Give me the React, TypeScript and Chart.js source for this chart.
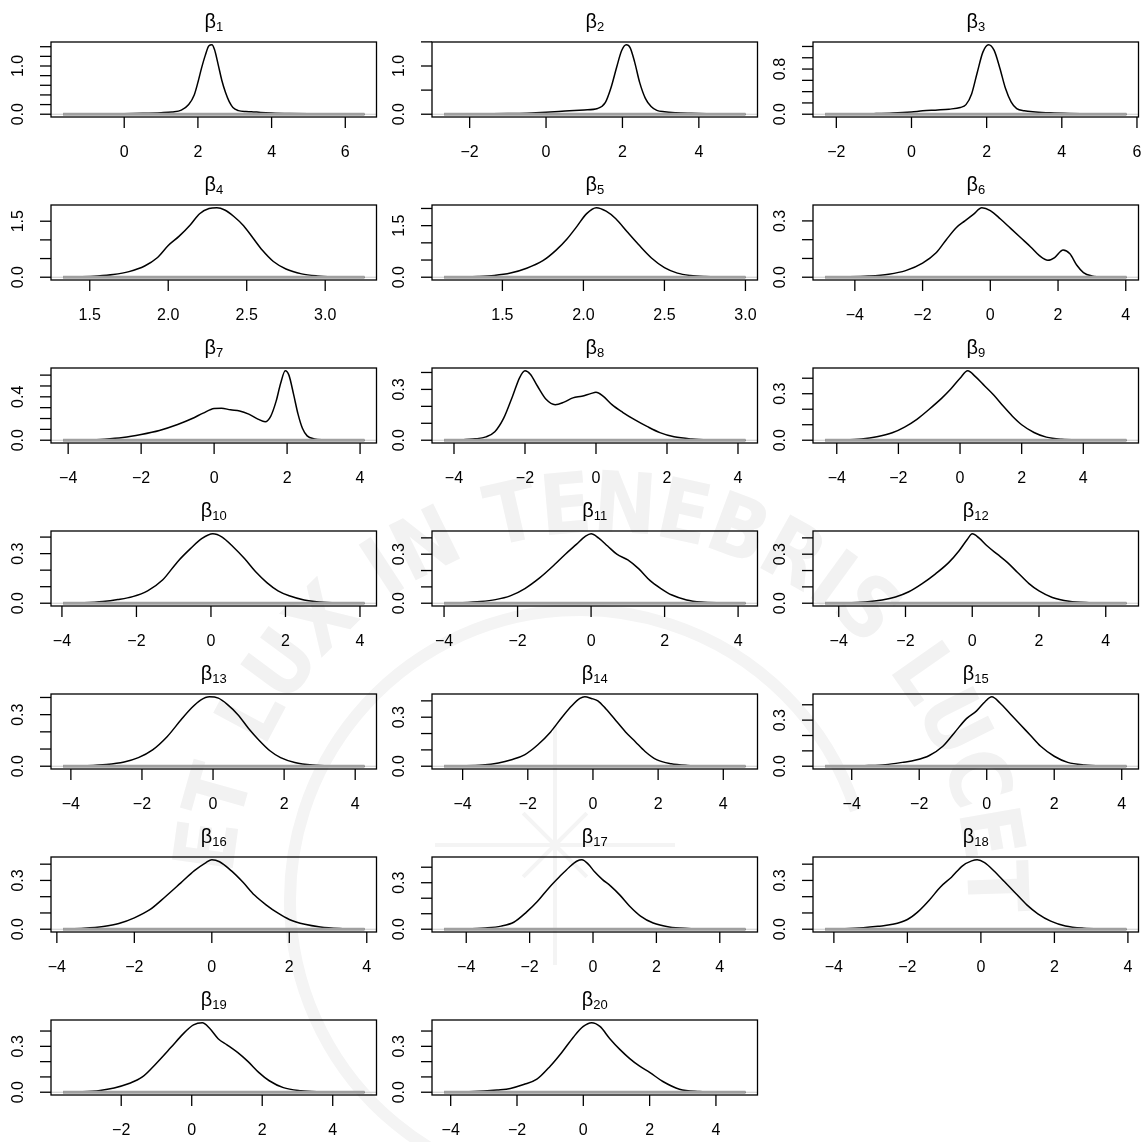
import React, { useEffect, useRef } from "react";
import { Chart, registerables } from "chart.js";
Chart.register(...registerables);

// ---------- density estimates (x grid, density) ----------
const b1X = [-1.66, -1.0, -0.5, 0, 0.5, 1.0, 1.3, 1.55, 1.75, 1.9, 2.0, 2.1, 2.2, 2.3, 2.38, 2.45, 2.55, 2.65, 2.75, 2.85, 2.95, 3.1, 3.3, 3.45, 3.7, 4.0, 4.5, 5.0, 5.5, 6.0, 6.52];
const b1Y = [0.001, 0.003, 0.006, 0.01, 0.018, 0.032, 0.048, 0.085, 0.2, 0.4, 0.66, 0.96, 1.22, 1.42, 1.44, 1.34, 1.03, 0.7, 0.45, 0.26, 0.14, 0.075, 0.055, 0.052, 0.038, 0.027, 0.016, 0.009, 0.005, 0.002, 0.001];

const b2X = [-2.67, -2, -1.5, -1, -0.5, 0, 0.5, 1.0, 1.35, 1.55, 1.7, 1.85, 1.98, 2.1, 2.2, 2.32, 2.45, 2.6, 2.75, 2.9, 3.1, 3.4, 3.8, 4.2, 4.7, 5.22];
const b2Y = [0.001, 0.004, 0.008, 0.013, 0.022, 0.04, 0.065, 0.09, 0.12, 0.24, 0.55, 0.98, 1.32, 1.44, 1.38, 1.08, 0.66, 0.33, 0.16, 0.08, 0.05, 0.03, 0.018, 0.01, 0.005, 0.002];

const b3X = [-2.3, -1.5, -1, -0.5, 0, 0.3, 0.7, 1.0, 1.3, 1.45, 1.6, 1.75, 1.9, 2.05, 2.2, 2.35, 2.5, 2.65, 2.8, 3.0, 3.3, 3.7, 4.2, 4.8, 5.3, 5.72];
const b3Y = [0.001, 0.004, 0.01, 0.02, 0.04, 0.06, 0.075, 0.09, 0.12, 0.17, 0.36, 0.74, 1.1, 1.23, 1.13, 0.82, 0.46, 0.22, 0.1, 0.06, 0.04, 0.025, 0.014, 0.006, 0.003, 0.001];

const b4X = [1.33, 1.45, 1.55, 1.65, 1.75, 1.85, 1.93, 2.0, 2.07, 2.14, 2.2, 2.26, 2.31, 2.36, 2.42, 2.48, 2.54, 2.6, 2.67, 2.75, 2.85, 2.95, 3.05, 3.15, 3.25];
const b4Y = [0.002, 0.01, 0.03, 0.07, 0.15, 0.3, 0.52, 0.85, 1.1, 1.4, 1.7, 1.84, 1.86, 1.8, 1.62, 1.38, 1.05, 0.72, 0.42, 0.22, 0.09, 0.035, 0.012, 0.004, 0.001];

const b5X = [1.14, 1.25, 1.35, 1.45, 1.55, 1.65, 1.75, 1.83, 1.9, 1.96, 2.02, 2.08, 2.14, 2.2, 2.27, 2.34, 2.42, 2.5, 2.58, 2.66, 2.75, 2.85, 3.0];
const b5Y = [0.002, 0.008, 0.02, 0.05, 0.12, 0.26, 0.48, 0.78, 1.12, 1.48, 1.85, 2.02, 1.92, 1.7, 1.32, 0.95, 0.56, 0.28, 0.12, 0.05, 0.018, 0.006, 0.001];

const b6X = [-4.88, -4.2, -3.6, -3.0, -2.5, -2.0, -1.6, -1.3, -1.0, -0.75, -0.5, -0.25, 0.0, 0.3, 0.6, 0.9, 1.2, 1.45, 1.7, 1.9, 2.15, 2.35, 2.55, 2.75, 3.0, 3.4, 4.02];
const b6Y = [0.0005, 0.002, 0.006, 0.016, 0.035, 0.075, 0.13, 0.2, 0.265, 0.3, 0.335, 0.37, 0.355, 0.31, 0.26, 0.21, 0.16, 0.115, 0.09, 0.105, 0.145, 0.125, 0.065, 0.025, 0.007, 0.001, 0.0002];

const b7X = [-4.14, -3.5, -3.0, -2.5, -2.0, -1.5, -1.0, -0.6, -0.3, 0.0, 0.2, 0.45, 0.7, 0.95, 1.2, 1.4, 1.55, 1.7, 1.82, 1.95, 2.05, 2.18, 2.3, 2.42, 2.55, 2.75, 3.0, 3.5, 4.12];
const b7Y = [0.0005, 0.003, 0.01, 0.025, 0.053, 0.09, 0.145, 0.2, 0.25, 0.292, 0.295, 0.28, 0.27, 0.24, 0.195, 0.17, 0.22, 0.36, 0.52, 0.64, 0.6, 0.42, 0.24, 0.11, 0.04, 0.012, 0.004, 0.001, 0.0002];

const b8X = [-4.28, -3.8, -3.4, -3.1, -2.85, -2.6, -2.35, -2.15, -2.0, -1.85, -1.65, -1.4, -1.15, -0.9, -0.65, -0.4, -0.15, 0.0, 0.2, 0.45, 0.75, 1.1, 1.45, 1.8, 2.2, 2.7, 3.2, 3.7, 4.21];
const b8Y = [0.0005, 0.002, 0.008, 0.02, 0.05, 0.13, 0.26, 0.37, 0.41, 0.39, 0.32, 0.24, 0.21, 0.225, 0.25, 0.26, 0.275, 0.283, 0.26, 0.21, 0.165, 0.12, 0.08, 0.045, 0.02, 0.007, 0.002, 0.0007, 0.0002];

const b9X = [-4.38, -3.8, -3.2, -2.7, -2.2, -1.8, -1.4, -1.0, -0.6, -0.3, 0.0, 0.25, 0.5, 0.8, 1.1, 1.4, 1.7, 2.0, 2.4, 2.8, 3.3, 3.9, 4.6, 5.4];
const b9Y = [0.0005, 0.002, 0.008, 0.022, 0.048, 0.085, 0.135, 0.2, 0.27, 0.33, 0.4, 0.448, 0.41, 0.35, 0.29, 0.22, 0.155, 0.1, 0.05, 0.02, 0.006, 0.0015, 0.0004, 0.0001];

const b10X = [-3.97, -3.4, -2.9, -2.5, -2.1, -1.7, -1.3, -0.9, -0.55, -0.25, 0.05, 0.3, 0.6, 0.9, 1.2, 1.5, 1.8, 2.1, 2.5, 2.9, 3.4, 4.12];
const b10Y = [0.0005, 0.003, 0.01, 0.022, 0.04, 0.075, 0.14, 0.25, 0.33, 0.39, 0.42, 0.4, 0.34, 0.27, 0.19, 0.125, 0.075, 0.045, 0.02, 0.008, 0.002, 0.0003];

const b11X = [-4.0, -3.5, -3.0, -2.6, -2.2, -1.8, -1.4, -1.0, -0.7, -0.4, -0.15, 0.0, 0.2, 0.45, 0.7, 1.0, 1.3, 1.6, 1.9, 2.2, 2.6, 3.0, 3.5, 4.2];
const b11Y = [0.0005, 0.003, 0.01, 0.022, 0.045, 0.09, 0.155, 0.235, 0.3, 0.36, 0.41, 0.425, 0.4, 0.35, 0.3, 0.265, 0.21, 0.14, 0.09, 0.05, 0.02, 0.007, 0.002, 0.0003];

const b12X = [-4.41, -3.8, -3.2, -2.7, -2.3, -1.9, -1.5, -1.1, -0.7, -0.4, -0.15, 0.0, 0.2, 0.45, 0.75, 1.05, 1.35, 1.7, 2.0, 2.4, 2.9, 3.5, 4.0, 4.62];
const b12Y = [0.0003, 0.002, 0.008, 0.02, 0.038, 0.07, 0.12, 0.18, 0.25, 0.32, 0.39, 0.425, 0.4, 0.35, 0.3, 0.25, 0.19, 0.12, 0.075, 0.035, 0.012, 0.003, 0.001, 0.0002];

const b13X = [-4.22, -3.6, -3.0, -2.5, -2.1, -1.7, -1.3, -0.9, -0.6, -0.35, -0.1, 0.15, 0.4, 0.7, 1.0, 1.3, 1.6, 1.9, 2.3, 2.8, 3.4, 4.26];
const b13Y = [0.0005, 0.003, 0.01, 0.025, 0.05, 0.095, 0.17, 0.27, 0.34, 0.385, 0.404, 0.396, 0.36, 0.3, 0.22, 0.15, 0.09, 0.05, 0.022, 0.007, 0.002, 0.0003];

const b14X = [-4.57, -4.0, -3.4, -2.9, -2.5, -2.1, -1.7, -1.3, -0.95, -0.65, -0.4, -0.25, -0.05, 0.15, 0.4, 0.7, 1.0, 1.3, 1.6, 1.95, 2.4, 2.9, 3.5, 4.1, 4.68];
const b14Y = [0.0003, 0.002, 0.007, 0.02, 0.04, 0.07, 0.13, 0.21, 0.3, 0.37, 0.415, 0.425, 0.415, 0.4, 0.35, 0.28, 0.21, 0.15, 0.09, 0.04, 0.015, 0.005, 0.0015, 0.0005, 0.0001];

const b15X = [-4.79, -4.1, -3.5, -3.0, -2.5, -2.1, -1.7, -1.3, -0.95, -0.6, -0.3, -0.05, 0.15, 0.4, 0.7, 1.0, 1.3, 1.6, 2.0, 2.4, 2.9, 3.5, 4.14];
const b15Y = [0.0002, 0.001, 0.004, 0.01, 0.025, 0.04, 0.07, 0.13, 0.22, 0.31, 0.36, 0.42, 0.452, 0.41, 0.34, 0.27, 0.2, 0.13, 0.065, 0.025, 0.008, 0.002, 0.0003];

const b16X = [-3.84, -3.3, -2.8, -2.4, -2.0, -1.6, -1.2, -0.8, -0.45, -0.15, 0.0, 0.2, 0.5, 0.8, 1.1, 1.4, 1.7, 2.0, 2.4, 2.8, 3.3, 3.94];
const b16Y = [0.001, 0.006, 0.017, 0.035, 0.07, 0.12, 0.2, 0.285, 0.36, 0.41, 0.427, 0.415, 0.36, 0.29, 0.21, 0.15, 0.1, 0.06, 0.03, 0.014, 0.005, 0.001];

const b17X = [-4.7, -4.0, -3.4, -2.9, -2.5, -2.1, -1.75, -1.4, -1.05, -0.75, -0.5, -0.35, -0.15, 0.05, 0.3, 0.55, 0.85, 1.15, 1.5, 1.9, 2.4, 3.0, 3.6, 4.2, 4.81];
const b17Y = [0.0003, 0.002, 0.008, 0.02, 0.045, 0.11, 0.18, 0.265, 0.34, 0.4, 0.44, 0.448, 0.42, 0.37, 0.32, 0.28, 0.22, 0.15, 0.085, 0.04, 0.015, 0.005, 0.0015, 0.0005, 0.0001];

const b18X = [-4.24, -3.7, -3.2, -2.8, -2.4, -2.0, -1.7, -1.4, -1.1, -0.8, -0.5, -0.25, -0.1, 0.1, 0.35, 0.65, 0.95, 1.25, 1.55, 1.9, 2.3, 2.8, 3.3, 3.96];
const b18Y = [0.0005, 0.003, 0.009, 0.018, 0.03, 0.06, 0.11, 0.18, 0.26, 0.32, 0.39, 0.42, 0.427, 0.41, 0.36, 0.29, 0.22, 0.15, 0.095, 0.05, 0.02, 0.006, 0.002, 0.0003];

const b19X = [-3.65, -3.1, -2.6, -2.2, -1.8, -1.4, -1.0, -0.6, -0.25, 0.05, 0.3, 0.5, 0.75, 1.0, 1.3, 1.6, 1.9, 2.2, 2.6, 3.1, 3.6, 4.2, 4.9];
const b19Y = [0.0005, 0.003, 0.012, 0.028, 0.055, 0.1, 0.19, 0.29, 0.38, 0.44, 0.454, 0.42, 0.35, 0.31, 0.26, 0.2, 0.13, 0.075, 0.03, 0.01, 0.003, 0.001, 0.0002];

const b20X = [-4.2, -3.6, -3.0, -2.6, -2.2, -1.8, -1.4, -1.0, -0.65, -0.3, 0.0, 0.25, 0.5, 0.8, 1.1, 1.4, 1.7, 2.0, 2.4, 2.9, 3.5, 4.2, 4.89];
const b20Y = [0.0003, 0.002, 0.008, 0.015, 0.025, 0.05, 0.085, 0.17, 0.26, 0.36, 0.43, 0.454, 0.43, 0.35, 0.28, 0.22, 0.17, 0.13, 0.07, 0.02, 0.005, 0.001, 0.0002];

// ---------- tick values / labels ----------
const xTicksA = [0, 2, 4, 6];
const xTicksB = [-2, 0, 2, 4];
const xTicksC = [-2, 0, 2, 4, 6];
const xTicksD = [1.5, 2.0, 2.5, 3.0];
const xTicksE = [-4, -2, 0, 2, 4];

const yTicks1 = [0, 0.2, 0.4, 0.6, 0.8, 1.0, 1.2, 1.4];
const yTicks2 = [0, 0.5, 1.0, 1.5];
const yTicks3 = [0, 0.2, 0.4, 0.6, 0.8, 1.0, 1.2];
const yTicks45 = [0, 0.5, 1.0, 1.5, 2.0];
const yTicks7 = [0, 0.1, 0.2, 0.3, 0.4, 0.5, 0.6];
const yTicksS = [0, 0.1, 0.2, 0.3, 0.4];

const yLab1 = [0, 1.0];
const yLab3 = [0, 0.8];
const yLab45 = [0, 1.5];
const yLab7 = [0, 0.4];
const yLabS = [0, 0.3];

const subscripts = ["1","2","3","4","5","6","7","8","9","10","11","12","13","14","15","16","17","18","19","20"];
const watermarkText = "ET LUX IN TENEBRIS LUCET";

type Panel = { x: number[]; y: number[]; xt: number[]; xd: number; yt: number[]; yl: number[] };
const panels: Panel[] = [
  { x: b1X, y: b1Y, xt: xTicksA, xd: 0, yt: yTicks1, yl: yLab1 },
  { x: b2X, y: b2Y, xt: xTicksB, xd: 0, yt: yTicks2, yl: yLab1 },
  { x: b3X, y: b3Y, xt: xTicksC, xd: 0, yt: yTicks3, yl: yLab3 },
  { x: b4X, y: b4Y, xt: xTicksD, xd: 1, yt: yTicks45, yl: yLab45 },
  { x: b5X, y: b5Y, xt: xTicksD, xd: 1, yt: yTicks45, yl: yLab45 },
  { x: b6X, y: b6Y, xt: xTicksE, xd: 0, yt: yTicksS, yl: yLabS },
  { x: b7X, y: b7Y, xt: xTicksE, xd: 0, yt: yTicks7, yl: yLab7 },
  { x: b8X, y: b8Y, xt: xTicksE, xd: 0, yt: yTicksS, yl: yLabS },
  { x: b9X, y: b9Y, xt: xTicksE, xd: 0, yt: yTicksS, yl: yLabS },
  { x: b10X, y: b10Y, xt: xTicksE, xd: 0, yt: yTicksS, yl: yLabS },
  { x: b11X, y: b11Y, xt: xTicksE, xd: 0, yt: yTicksS, yl: yLabS },
  { x: b12X, y: b12Y, xt: xTicksE, xd: 0, yt: yTicksS, yl: yLabS },
  { x: b13X, y: b13Y, xt: xTicksE, xd: 0, yt: yTicksS, yl: yLabS },
  { x: b14X, y: b14Y, xt: xTicksE, xd: 0, yt: yTicksS, yl: yLabS },
  { x: b15X, y: b15Y, xt: xTicksE, xd: 0, yt: yTicksS, yl: yLabS },
  { x: b16X, y: b16Y, xt: xTicksE, xd: 0, yt: yTicksS, yl: yLabS },
  { x: b17X, y: b17Y, xt: xTicksE, xd: 0, yt: yTicksS, yl: yLabS },
  { x: b18X, y: b18Y, xt: xTicksE, xd: 0, yt: yTicksS, yl: yLabS },
  { x: b19X, y: b19Y, xt: xTicksB, xd: 0, yt: yTicksS, yl: yLabS },
  { x: b20X, y: b20Y, xt: xTicksE, xd: 0, yt: yTicksS, yl: yLabS },
];

const FONT = '"Liberation Sans", Arial, Helvetica, sans-serif';
const PW = 381;
const PH = 163;
const fmt = (v: number, d: number) => (v < 0 ? "\u2212" : "") + Math.abs(v).toFixed(d);

function makePlugin(p: Panel, sub: string) {
  return {
    id: "rpanel",
    beforeDatasetsDraw(chart: any) {
      const { ctx, chartArea: a, scales } = chart;
      const y0 = scales.y.getPixelForValue(0);
      ctx.save();
      ctx.strokeStyle = "#c8c8c8";
      ctx.lineWidth = 1;
      ctx.beginPath();
      ctx.moveTo(a.left, y0);
      ctx.lineTo(a.right, y0);
      ctx.stroke();
      ctx.restore();
    },
    afterDatasetsDraw(chart: any) {
      const { ctx, chartArea: a, scales } = chart;
      const xs = scales.x, ys = scales.y;
      const y0 = ys.getPixelForValue(0);
      ctx.save();
      ctx.strokeStyle = "#a0a0a0";
      ctx.lineWidth = 3;
      ctx.beginPath();
      ctx.moveTo(xs.getPixelForValue(p.x[0]), y0);
      ctx.lineTo(xs.getPixelForValue(p.x[p.x.length - 1]), y0);
      ctx.stroke();
      ctx.strokeStyle = "#000";
      ctx.lineWidth = 1.3;
      ctx.strokeRect(a.left, a.top, a.right - a.left, a.bottom - a.top);
      ctx.fillStyle = "#000";
      ctx.font = `16px ${FONT}`;
      ctx.textAlign = "center";
      ctx.textBaseline = "middle";
      for (const t of p.xt) {
        const px = xs.getPixelForValue(t);
        ctx.beginPath();
        ctx.moveTo(px, a.bottom);
        ctx.lineTo(px, a.bottom + 11);
        ctx.stroke();
        ctx.fillText(fmt(t, p.xd), px, a.bottom + 36);
      }
      for (const t of p.yt) {
        const py = ys.getPixelForValue(t);
        if (py < a.top - 0.5) continue;
        ctx.beginPath();
        ctx.moveTo(a.left - 11, py);
        ctx.lineTo(a.left, py);
        ctx.stroke();
      }
      for (const t of p.yl) {
        const py = ys.getPixelForValue(t);
        ctx.save();
        ctx.translate(a.left - 32, py);
        ctx.rotate(-Math.PI / 2);
        ctx.fillText(t.toFixed(1), 0, 0);
        ctx.restore();
      }
      ctx.textAlign = "left";
      ctx.textBaseline = "alphabetic";
      ctx.font = `20px ${FONT}`;
      const wB = ctx.measureText("\u03b2").width;
      ctx.font = `13px ${FONT}`;
      const wS = ctx.measureText(sub).width;
      const cx = (a.left + a.right) / 2;
      const x0 = cx - (wB + wS) / 2;
      ctx.font = `20px ${FONT}`;
      ctx.fillText("\u03b2", x0, 28);
      ctx.font = `13px ${FONT}`;
      ctx.fillText(sub, x0 + wB, 31);
      ctx.restore();
    },
  };
}

function drawWatermark(cv: HTMLCanvasElement) {
  const ctx = cv.getContext("2d");
  if (!ctx) return;
  ctx.clearRect(0, 0, cv.width, cv.height);
  const cx = 600, cy = 900, r = 390;
  ctx.fillStyle = "#f2f2f2";
  ctx.strokeStyle = "#f4f4f4";
  ctx.lineWidth = 12;
  ctx.beginPath();
  ctx.arc(cx - 20, cy, 290, Math.PI * 0.6, Math.PI * 1.9);
  ctx.stroke();
  ctx.lineWidth = 4;
  const sx = 555, sy = 845;
  for (let k = 0; k < 8; k++) {
    const ang = (k * Math.PI) / 4;
    const len = k % 2 === 0 ? 120 : 45;
    ctx.beginPath();
    ctx.moveTo(sx, sy);
    ctx.lineTo(sx + Math.cos(ang) * len, sy + Math.sin(ang) * len);
    ctx.stroke();
  }
  ctx.font = `bold 84px "DejaVu Sans Condensed", "DejaVu Sans", sans-serif`;
  ctx.textAlign = "center";
  ctx.textBaseline = "middle";
  const chars = watermarkText.split("");
  const widths = chars.map((c) => ctx.measureText(c).width + 10);
  const total = widths.reduce((s, w) => s + w, 0);
  const a0 = (-176 * Math.PI) / 180, a1 = (2 * Math.PI) / 180;
  const span = a1 - a0;
  let acc = 0;
  chars.forEach((c, k) => {
    const mid = acc + widths[k] / 2;
    acc += widths[k];
    const ang = a0 + (mid / total) * span;
    ctx.save();
    ctx.translate(cx + Math.cos(ang) * r, cy + Math.sin(ang) * r);
    ctx.rotate(ang + Math.PI / 2);
    ctx.fillText(c, 0, 0);
    ctx.restore();
  });
}

export default function App() {
  const refs = useRef<(HTMLCanvasElement | null)[]>([]);
  const bgRef = useRef<HTMLCanvasElement | null>(null);
  useEffect(() => {
    if (bgRef.current) drawWatermark(bgRef.current);
    const charts: Chart[] = [];
    panels.forEach((p, i) => {
      const cv = refs.current[i];
      if (!cv) return;
      const xmin = Math.min(...p.x), xmax = Math.max(...p.x);
      const ymax = Math.max(...p.y);
      const w = xmax - xmin;
      const ch = new Chart(cv, {
        type: "line",
        data: {
          datasets: [
            {
              data: p.x.map((v, k) => ({ x: v, y: p.y[k] })),
              borderColor: "#000",
              borderWidth: 1.5,
              pointRadius: 0,
              fill: false,
              cubicInterpolationMode: "monotone",
            },
          ],
        },
        options: {
          animation: false,
          responsive: false,
          events: [],
          layout: { padding: { left: 51, right: 4.5, top: 42, bottom: 46 } },
          scales: {
            x: { type: "linear", display: false, min: xmin - 0.04 * w, max: xmax + 0.04 * w },
            y: { type: "linear", display: false, min: -0.04 * ymax, max: 1.04 * ymax },
          },
          plugins: { legend: { display: false }, tooltip: { enabled: false } },
        },
        plugins: [makePlugin(p, subscripts[i])],
      } as any);
      charts.push(ch);
    });
    return () => charts.forEach((c) => c.destroy());
  }, []);

  return (
    <div style={{ position: "absolute", left: 0, top: 0, width: 1144, height: 1142, background: "#fff" }}>
      <canvas ref={bgRef} width={1144} height={1142} style={{ position: "absolute", left: 0, top: 0, width: 1144, height: 1142 }} />
      {panels.map((_, i) => (
        <canvas
          key={i}
          ref={(el) => { refs.current[i] = el; }}
          width={PW}
          height={PH}
          style={{ position: "absolute", left: (i % 3) * 381, top: Math.floor(i / 3) * 163, width: PW, height: PH }}
        />
      ))}
    </div>
  );
}
